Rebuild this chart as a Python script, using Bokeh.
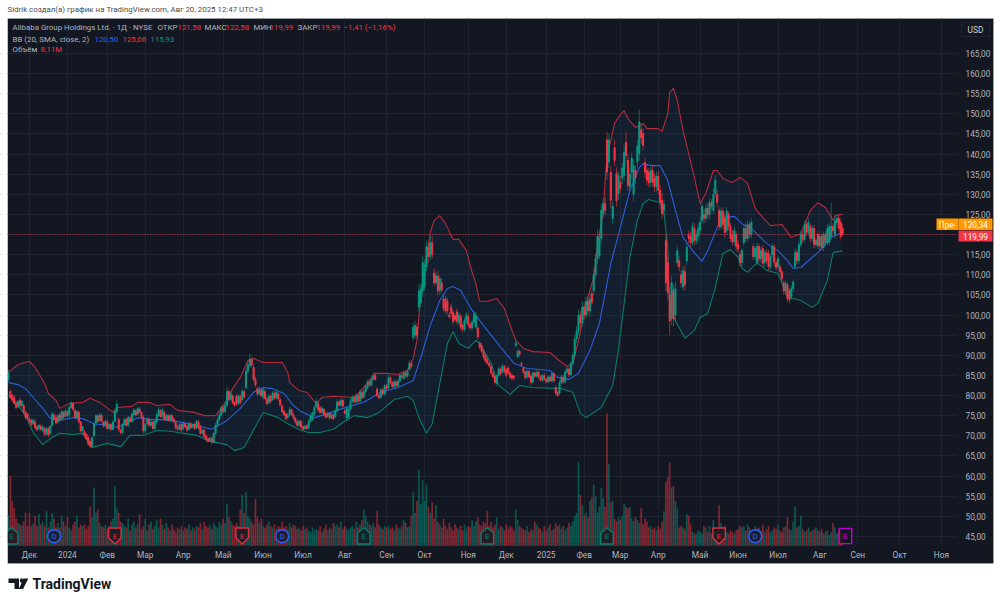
from bokeh.core.properties import value
from bokeh.embed import file_html
from bokeh.models import BoxAnnotation, FixedTicker, Label, PolyAnnotation, Range1d
from bokeh.plotting import figure
from bokeh.resources import INLINE

# daily candles, BABA NYSE
opens = [
    84,81,80,79.5,78,77.2,78.8,77.5,77.5,75.8,75.4,74.2,73.8,73,73.5,72.2,71.8,72.4,71.3,71.8,
    70.4,71.7,70.6,72.6,75.2,74.4,73.4,75.2,74.2,75.8,74.8,76,75.2,77,78,76.2,74.4,75.8,73.4,71.2,
    71,70.4,69.6,68.6,67.4,70,73.2,75,73.8,75,73.4,72.6,73.4,71.8,72.8,71.6,73.6,76,74,71.4,
    70.8,72.8,74,72.6,74.4,73.6,75.2,76.2,75.4,76.6,75.8,74.6,71.2,73,74,72.6,73.4,71.8,73.4,75,
    76.2,74.8,75.8,74,75,73.8,75,74.2,73.2,72.2,71.6,72.8,71.8,73,72.4,71.6,73,72.2,72.8,72,
    73.4,72.4,70.6,71.4,70,69.2,68.8,69.4,68.4,70.6,72.6,74,75.2,77,76,77.6,81,79,79.8,78.2,
    79.8,78,79.8,79,81,82,86,87.4,89,87,84,81.8,80.4,81.4,79.6,81,79.2,78.2,79.8,79,
    80.6,79.4,80.4,79,77.4,76,75.4,74.6,75.2,76.4,75.2,74.4,73.6,72.6,73.6,72.2,71.8,72.4,72,73.6,
    74,75.4,77.2,78,77,75.8,76.6,75.4,74.8,75.6,74.4,75.2,74.8,76.2,78.4,77.6,78.8,76.2,74.4,74.6,
    76.6,78.6,79.6,78.4,80,78.6,80.8,79.6,81,82,83.4,82.6,84,85,81.6,80,79.6,81.4,80.4,82.4,
    82,84.4,83.2,82.2,83.4,82.4,83.6,85,84.2,85.6,84.8,86.4,88,94.4,95,97,102,103,106,107,
    112,116.8,114.5,118,110.4,108,109.6,106,108,104,104,103.4,100,102,100.6,99.8,100.8,98.2,99.6,97.4,
    96.4,98.6,99.6,97.6,96.8,98.2,97,96.8,93,92.4,91,90,89,88,87.2,85.6,84.8,83,85,86.6,
    85.8,87.2,86.4,86.8,85.6,85,84.8,92.4,89.6,91,88,86.8,85.8,84.6,86,84.8,83.4,85.6,84.8,85.8,
    84.6,83.8,85,84,83.4,84.6,83.6,85.4,82,80.8,80.6,83.2,84.6,83.4,85.8,86.6,85.2,88,90,94,
    96,100,98,102,100,103.4,101,105.3,106,110,114,114.8,119,125.2,127.7,143.5,138,135.4,124,141.6,
    135.2,130.2,133,134,134.7,142.9,138.4,132,135.5,130,136,138,140.1,146,145.1,137.9,136,135.5,133,135.9,
    134,132,134.5,131,128.5,126,118.5,113,105,99,106,100,113,113.5,110,107,110.8,113.5,120,119.5,
    118,121.5,118.5,119.5,121,123.5,125,124,126.5,125,128,126,130.2,130,126,122,125.8,124,121,125,
    122,120,118.2,120,117.5,115,113,118,121.5,119,122.5,120,117,114.5,113,117,114,116.5,113,115.5,
    115.3,112,115,117,113,112,112,110.8,108,106,107.5,106,104.5,106.5,112,115.5,113.5,117.5,120,118.8,
    122.5,120.5,122,119,121.5,117.5,120,117.2,119.5,116.8,120,118,118,119.5,122,120,123,124,123,121.58,
]
closes = [
    85.5,79.5,78.8,78,77,78.5,77.5,78.6,75.8,74.6,74.3,73.5,72.8,73.9,72,71.5,72.6,71.6,72.2,70.4,
    71.8,70.2,72.4,75.4,74.2,73.2,75,74,76,74.6,76.2,75,77,78.2,76.5,74.6,76,73.5,71.2,72.2,
    70,69.2,68,67.4,69.5,73,75,73.6,75.2,73.6,72.4,73.6,71.8,72.8,71.6,73.4,76,77.8,71.6,70.8,
    72.8,74,72.6,74.6,73.6,75.4,76.4,75.2,76.8,75.8,74.6,71.2,72.8,74.2,72.6,73.4,71.8,73.6,75.2,76.4,
    74.8,76.4,74,75,73.8,75,74,73.4,72,71.6,72.8,71.4,73,72.2,71.4,73,72,72.8,71.8,73.6,
    72,70.6,71.4,69.8,69,68.6,69.4,68.4,70.6,72.6,74,75.2,77,76,77.6,81,79,80.4,78.2,77.6,
    78,79.8,78.2,81,79.6,86,87.6,89,87.6,84,82.6,80.4,81.6,80,81.4,79.2,78,79.8,78.6,80.6,
    79.4,80.8,79.2,77.6,76,75.2,74.2,75.2,76.6,75.2,74.4,73.4,72.6,73.6,72.2,71.6,72.4,71.8,73.6,75,
    75.6,77,78.6,76.4,75.8,76.8,75.2,74.6,75.6,74.4,75.2,74.2,76.2,78.4,77.6,78.8,77.4,75.6,76.8,76.6,
    78.6,79.6,78.4,80,78.6,80.8,79.4,81,82.2,83.4,82.6,84,85,84,80,79.4,81.4,80.4,82.4,81.6,
    84.4,83.2,82.2,83.4,82.4,83.6,85,84.6,85.6,84.8,86,88,87.2,97,97.4,95,106,106.4,113,112.4,
    117,114.5,118,115,108,109.8,106,109,106.2,101.6,101,101,99.6,100.4,98.4,98.8,98.4,100,97,96.4,
    98.6,100,97.6,96.8,98.2,100.2,99.8,94.6,92,91,89.6,88.6,88,87.4,85.6,84.6,83.2,85,86.6,85.4,
    87.4,86,85,85.6,84.6,84.2,84.4,93,91,90.2,87.6,85.8,84.4,86,84.6,83.2,85.6,84.8,85.8,84.6,
    83.8,85,84,83.4,84.6,83.6,85.4,83.6,80.6,80,83.2,84.6,83.4,85.8,86.6,85.2,88,90,94,96,
    100,98,102,100,103.4,101,104,103,110,114,119.5,119,126,127.7,126,135.5,143.5,128.5,127,138.4,
    128.4,134.7,131.5,136.5,140.4,139.6,132.2,135,139,137,134,142,148,144,142.1,135.5,133.5,132.8,135.9,133,
    131.8,134.5,131,128,125.2,127.5,108,105.5,98.5,108,99,106.5,116,112,108,111,107.5,116.8,119,118,
    122,118.5,120,121.5,123,127,124,126.5,125,128,127,130,133.5,128,122,125.8,122.5,120.5,125.8,122,
    119,118.2,121,117,116.4,113,116,121.5,119,122.5,120,123,114.5,116.5,117,114,116,112.8,115.5,113.5,
    112,114.5,117,113,111.8,114,110.8,109,106,107.8,104,103.8,106.5,108.2,115.5,113.5,117.5,120,118.8,122.5,
    120.5,123,119,121.5,117.5,118.5,117.2,119.5,116.8,120,118,121.5,122,122,121,123.5,124,121.5,119.5,119.99,
]
# wick lengths above and below the body, dollars
wick_up = [
    1,.5,.4,.6,.5,.4,.6,.3,.4,.5,.3,.4,.5,.3,.6,.4,.3,.5,.4,.3,
    .4,.6,.3,.5,.4,.6,.3,.5,.4,.3,.6,.4,.5,.3,.4,.6,.3,.5,.4,.3,
    .5,.3,.4,.6,.3,.5,.4,.3,.5,.4,.3,.4,.6,.3,.4,.5,.5,1,.6,.4,
    .3,.5,.4,.3,.6,.4,.5,.3,.4,.6,.3,.5,.4,.3,.5,.6,.3,.4,.5,.7,
    .4,.6,.3,.5,.4,.3,.6,.4,.3,.5,.4,.3,.6,.4,.3,.5,.4,.3,.5,.4,
    .6,.3,.4,.5,.3,.4,.3,.5,.4,.6,.5,.7,.6,.4,.8,1.2,.6,.8,.5,.4,
    .5,.6,.4,.7,.5,1,.9,1.4,.6,.8,.7,.5,.6,.4,.7,.5,.4,.6,.5,.6,
    .5,.7,.4,.5,.4,.6,.3,.5,.6,.4,.5,.3,.4,.5,.3,.4,.3,.5,.6,.7,
    .5,.6,.8,.5,.4,.6,.3,.5,.4,.3,.5,.4,.6,.7,.4,.6,.5,.4,.5,.6,
    .7,.5,.4,.6,.5,.7,.4,.6,.5,.6,.4,.7,.8,.6,.5,.4,.6,.5,.6,.4,
    .7,.5,.4,.6,.4,.5,.6,.4,.7,.5,.6,.8,.6,1,1.2,.9,1.6,1.4,1.8,1.2,
    1.5,1.2,1.8,1.5,1.2,1,1.4,.8,1.2,1,.8,1,.7,.9,.8,.6,.9,.8,.7,.6,
    .8,.7,.9,.6,.7,.8,.9,.6,.5,.7,.6,.5,.6,.4,.5,.6,.4,.5,.6,.5,
    .6,.4,.5,.6,.4,.5,.3,.8,.5,.4,.5,.4,.6,.5,.4,.6,.5,.4,.5,.4,
    .5,.4,.6,.3,.5,.4,.6,.5,.4,.5,.6,.5,.7,.6,.5,.4,.6,.8,1,1.2,
    1.4,1,1.5,.9,1.2,1,1.4,.8,1.5,1.2,1.6,1.2,1.5,1.2,1.5,2,1.5,1.6,1.2,2,
    1.5,1.2,1.6,1.4,1.8,2.5,1.5,1.8,1.4,1.6,1.2,1.5,3,1.5,1.2,1.2,1.5,1,1.2,1.4,
    1.2,1,1.4,1.2,1.8,1.2,1.4,1.6,2,1.8,1.5,1.8,1,1.2,1.2,1,1.5,1,1,1.2,
    1,1.4,1,1.2,1.5,1,1.2,1,1.4,1,.8,1.5,1,1.2,1,.8,1,1.2,1,.8,
    .8,1,1,.8,1.2,1,.8,1,1.2,1,.8,1,.8,.7,1,.8,1,.9,.7,.8,
    .8,.7,.9,.6,.8,.7,.6,.8,.7,.8,.6,.7,.8,.6,1,.7,.8,1,.8,1,
    .8,1,.7,.9,.8,.6,.8,.7,.9,.7,.8,1,.9,5.9,.8,1,1,.8,.9,1,
]
wick_dn = [
    .6,.4,.5,.3,.5,.4,.3,.5,.4,.6,.3,.4,.5,.3,.5,.4,.6,.3,.4,.5,
    .3,.5,.4,.3,.5,.4,.6,.3,.4,.5,.3,.4,.6,.3,.5,.4,.3,.5,.4,.6,
    .4,.3,.5,.6,.4,.3,.5,.4,.3,.5,.4,.6,.3,.4,.5,.3,.4,.5,.6,.5,
    .5,.4,.3,.5,.4,.3,.6,.4,.5,.3,.4,.6,.5,.3,.4,.5,.3,.4,.6,.3,
    .4,.3,.5,.4,.3,.5,.4,.3,.6,.4,.3,.5,.4,.3,.5,.4,.3,.5,.4,.3,
    .5,.4,.3,.5,.4,.3,.4,.5,.3,.4,.5,.6,.4,.5,.3,.5,.6,.4,.5,.4,
    .6,.4,.5,.6,.4,.5,.7,.5,.6,.4,.5,.6,.4,.5,.6,.4,.5,.3,.6,.4,
    .5,.4,.6,.3,.5,.4,.3,.5,.4,.3,.5,.4,.3,.4,.5,.3,.4,.3,.5,.4,
    .4,.5,.3,.6,.4,.3,.5,.4,.3,.5,.4,.3,.5,.4,.3,.5,.4,.3,.7,.5,
    .4,.5,.3,.6,.4,.5,.3,.4,.5,.4,.3,.5,.4,.3,.5,.3,.5,.4,.5,.3,
    .5,.4,.3,.5,.4,.3,.4,.5,.3,.4,.5,.3,.6,.8,1,.7,1,1.2,1.5,1,
    1.2,1.5,1,1,.8,.6,1.2,1,.8,1,.7,.9,.6,.8,.7,.6,.8,.7,.8,.7,
    .6,.8,.7,.6,.7,.8,.6,.9,.6,.5,.6,.5,.4,.5,.6,.4,.5,.6,.4,.5,
    .4,.6,.5,.4,.5,.4,.6,.4,.3,.5,.4,.5,.4,.5,.4,.6,.5,.4,.5,.4,
    .4,.5,.3,.5,.4,.3,.5,.4,.6,.5,.5,.4,.6,.5,.4,.6,.5,.6,.8,1,
    1,1.5,.9,1.2,.8,1,1.5,.8,1.2,1,1.4,1,1.2,1,1.2,2,1.5,2,1.5,1.4,
    1.5,1.8,1.2,1.5,1.2,1.6,1.4,1.2,1.5,1.8,1.4,1.6,1.8,1.5,1.2,1.4,1.2,1,1.2,1,
    1.2,1.5,1.2,1.8,1.5,1.2,2,1.6,3.5,1.5,1.8,1.6,1,1.2,1.2,1,1.4,1,1.2,1,
    .8,1.2,1,1.4,1,.8,1.2,1,1,1.2,.8,1,1,1.2,1,.8,1,1.2,.9,1,
    .8,1,.9,1.2,.8,1,1,.8,1,.9,1,.8,.9,1,.8,1,.9,.8,1,.7,
    .9,.8,.7,1,.8,.7,.9,.8,1,.9,.8,1,.7,.8,.7,.9,.8,.7,.9,.8,
    .8,.7,1,.8,.9,.7,.8,1,.8,.9,.7,.8,.7,.8,.7,.9,.8,.7,.6,0,
]
# volume, millions
volumes = [
    20,47,30,25,18,15,14,13,16,22,13,22,13,15,20,13,21,14,16,13,
    23,12,16,22,18,12,15,12,20,16,13,19,12,10,14,16,20,12,14,13,
    14,11,13,26,19,39,22,24,15,13,12,14,11,13,16,18,40,25,22,16,
    15,13,12,18,10,14,16,12,14,21,11,13,18,10,14,16,11,13,17,12,
    18,14,11,15,12,10,14,11,9,12,11,13,10,12,11,14,10,12,11,13,
    12,15,11,16,13,12,14,11,15,13,12,16,14,18,15,28,19,16,14,13,
    15,13,24,34,22,36,20,18,16,14,31,19,15,18,13,12,14,16,13,12,
    14,11,13,12,16,12,13,11,15,12,14,13,11,12,10,13,11,12,10,9,
    12,10,11,10,13,9,11,14,10,12,11,15,13,14,12,16,11,13,11,10,
    12,13,11,16,12,14,17,24,20,16,14,13,15,12,23,14,12,11,13,12,
    13,11,12,10,14,12,11,13,17,15,12,13,20,36,22,30,51,28,44,30,
    41,26,22,29,18,27,16,14,12,18,13,11,15,12,10,14,12,11,13,10,
    14,11,13,12,17,13,16,19,14,13,16,15,23,13,16,12,14,19,11,13,
    12,10,14,11,13,12,10,24,17,13,12,11,10,13,9,11,10,16,14,12,
    11,9,13,10,12,14,10,11,15,13,14,11,13,10,12,15,13,16,20,22,
    56,34,27,20,22,19,30,32,41,33,22,26,39,32,26,89,55,29,30,18,
    16,19,17,20,28,26,25,26,18,16,19,17,15,25,14,18,16,12,13,11,
    12,10,13,11,16,23,43,46,56,39,40,30,25,12,13,12,11,21,20,14,
    9,8,8,10,9,8,13,12,9,13,8,17,10,11,27,15,11,13,9,8,
    10,9,8,10,11,13,12,13,10,14,12,9,10,13,11,12,10,14,9,11,
    13,9,10,12,11,14,10,9,12,13,19,11,10,16,26,12,13,20,11,9,
    10,12,9,10,11,12,10,9,11,8,9,10,7,9,15,12,8,10,9,8,
]

# Bollinger bands, read at the bends of each line
upper_idx = [0,5,11,14,19,21,25,27,32,39,43,48,55,57,65,68,74,78,85,89,98,103,109,115,118,122,126,129,134,144,147,148,153,157,162,165,171,182,187,193,199,205,210,213,215,217,219,222,224,227,230,234,237,241,244,246,248,252,257,261,265,267,271,276,285,289,294,297,300,305,308,310,313,314,315,319,322,324,326,330,334,336,342,344,347,348,350,352,355,358,361,364,367,371,373,376,381,385,389,393,397,401,407,412,417,422,426,430,434,435,439]
upper_val = [85.7,87.7,88.5,87,83,80.5,78.8,76.8,78,78.3,79.3,78.3,75.8,77,77.3,78.3,78.3,77.5,77.8,76.3,75.8,75,75,78.8,81.7,84.5,88.7,89.2,88.2,88.2,85.7,83.2,81.2,80.8,78,79.5,79.8,79.5,82,85.5,85.5,85.2,86.2,89.2,93.7,105.3,111.8,120.5,123.5,124.7,122.7,118.8,118.8,116,110.6,107.8,103.4,103.4,104.1,101.6,96.2,93.7,91.7,90.9,90.7,89,87.2,88,93.7,104.6,109.3,117.8,125.2,133.4,139.1,147.6,149.8,150.8,148.8,146.6,147.6,146.3,146.3,145.6,150.1,155.3,156.3,153.3,145.8,140.1,134.2,127.7,130.2,135.9,135.9,133.9,132.9,134.2,132.7,126.5,124.2,122.2,122.5,119.3,120.2,126,127.9,126.7,123.5,124.7,125.06]
basis_idx = [0,5,9,13,18,22,27,34,39,45,52,57,63,68,75,82,89,99,107,115,122,129,134,139,145,150,154,161,168,176,187,196,205,213,217,222,227,231,234,238,243,248,257,266,273,285,289,295,300,306,311,317,322,327,332,334,339,343,347,351,355,360,365,368,373,376,382,386,392,399,405,410,413,417,427,433,439]
basis_val = [83.2,82.7,81.7,79.5,76.8,74.3,73.8,74.5,74.3,73,72.6,72.1,73.3,74.5,74,74,73.5,72.6,71.6,73.8,76.8,80.8,82,81.7,80.5,77.5,76,74.5,75.5,76.8,78.3,80.8,82,83.7,89.4,97.4,103.6,106.6,107.1,106.1,101.9,98.6,93.2,88,86.7,86.2,84.5,84,85.5,91.2,97.9,112.8,121.7,130.9,136.6,137.6,137.1,137.1,133.4,126,119.3,116,113.3,116,121.7,124.2,124.5,122.7,121,117.8,116,113.5,111.6,111.8,116,119.3,120.5]
lower_idx = [0,4,9,13,18,22,27,34,39,44,52,59,64,71,78,85,99,106,115,119,124,134,142,147,154,158,164,171,176,182,189,195,203,210,213,216,220,223,227,231,234,237,242,246,248,254,258,264,269,276,291,297,301,304,312,318,321,327,331,334,337,343,345,347,348,351,356,361,364,368,372,376,380,384,386,389,394,399,405,410,417,423,426,431,434,439]
lower_val = [80,78.3,75,70.8,67.8,69.3,70.6,70.3,70.6,67.1,68.1,67.3,70.1,70.1,71.3,71.1,70.1,68.6,67.8,66.3,67.1,75.8,74.5,73,71.3,70.8,70.8,71.6,73.3,75,74.5,75.8,79,79.8,78.8,74.5,70.6,73,83,92.9,95.9,92.9,91.7,93.7,92.9,88,82.5,80.3,82.5,82,81.7,80.8,75.5,74.5,77,82.5,91.2,114.3,123.5,127.7,128.7,127.9,125.2,116.8,101.9,98.6,94.2,96.2,99.4,100.4,106.8,115.3,116.3,114.3,111.6,110.6,113,111.1,110.3,104.4,103.6,101.9,102.9,108.6,115.5,115.93]

# axis ticks
price_ticks = [45,50,55,60,65,70,75,80,85,90,95,100,105,110,115,120,125,130,135,140,145,150,155,160,165]
price_labels = ["45,00","50,00","55,00","60,00","65,00","70,00","75,00","80,00","85,00","90,00","95,00","100,00","105,00","110,00","115,00","120,00","125,00","130,00","135,00","140,00","145,00","150,00","155,00","160,00","165,00"]
month_ticks = [11,31,52,72,92,113,134,155,177,199,219,242,262,283,303,322,342,364,384,405,427,447,469,491]
month_labels = ["Дек","2024","Фев","Мар","Апр","Май","Июн","Июл","Авг","Сен","Окт","Ноя","Дек","2025","Фев","Мар","Апр","Май","Июн","Июл","Авг","Сен","Окт","Ноя"]

# earnings and dividend badges on the time axis
earn_up_idx = [1.6,187,252,315]
earn_down_idx = [56,123,374]
earn_next_idx = [440.5]
div_idx = [24,144,393]

last_close = 119.99
premarket = "120,34"

BG = "#131722"
TXT = "#b2b5be"
UP = "#089981"
DOWN = "#f23645"
BLUE = "#2962ff"
FONT = "Roboto"

# the frame fills the whole page, so the white margins and the axes sit inside it
PX_PER_BAR = 1.9
PX_PER_DOLLAR = 4.025
PX_PER_MILLION = 1 / 0.676
W, H = 1000, 603
x_start = -8 / PX_PER_BAR
price_top = 120 + 234 / PX_PER_DOLLAR
vol_top = 545 / PX_PER_MILLION
panel_right = (957 - 8) / PX_PER_BAR
price_bottom = 120 - (545 - 234) / PX_PER_DOLLAR
price_ceiling = 120 + (234 - 18) / PX_PER_DOLLAR

p = figure(width=W, height=H,
           x_range=Range1d(x_start, x_start + W / PX_PER_BAR),
           y_range=Range1d(price_top - H / PX_PER_DOLLAR, price_top),
           y_axis_location="right", output_backend="svg", toolbar_location=None,
           min_border=0)
p.extra_y_ranges = {"vol": Range1d(vol_top - H / PX_PER_MILLION, vol_top)}
p.background_fill_color = "white"
p.border_fill_color = "white"
p.outline_line_color = None


def text(px, py, s, color=TXT, size="7.9px", align="left", style="normal"):
    p.add_layout(Label(x=px, y=H - py, x_units="screen", y_units="screen", text=s,
                       text_color=color, text_font=FONT, text_font_size=size, text_align=align,
                       text_baseline="middle", text_font_style=style))


def box(x0, x1, y0, y1, fill, line=None, level="annotation"):
    p.add_layout(BoxAnnotation(left=x0, right=x1, top=H - y0, bottom=H - y1,
                               left_units="screen", right_units="screen", top_units="screen",
                               bottom_units="screen", fill_color=fill, fill_alpha=1 if fill else 0,
                               line_color=line, line_width=1, level=level, editable=False))


# dark panel under everything
box(7, 993, 18, 563, BG, level="image")

p.xaxis.fixed_location = price_bottom
p.yaxis.fixed_location = panel_right
p.xaxis.ticker = FixedTicker(ticks=month_ticks)
p.xaxis.major_label_overrides = dict(zip(month_ticks, month_labels))
p.yaxis.ticker = FixedTicker(ticks=price_ticks)
p.yaxis.major_label_overrides = dict(zip(price_ticks, price_labels))
for ax in (p.xaxis, p.yaxis):
    ax.axis_line_color = None
    ax.major_tick_line_color = None
    ax.minor_tick_line_color = None
    ax.major_tick_in = 0
    ax.major_tick_out = 0
    ax.major_label_text_color = TXT
    ax.major_label_text_font = FONT
    ax.major_label_text_font_size = "8.3px"
p.xaxis.major_label_standoff = 4
p.yaxis.major_label_standoff = 8
p.xgrid.ticker = FixedTicker(ticks=month_ticks)
p.ygrid.ticker = FixedTicker(ticks=price_ticks)
p.xgrid.cross_bounds = (price_bottom, price_ceiling)
p.ygrid.cross_bounds = (x_start, panel_right)
p.grid.grid_line_color = "#1f2330"
p.grid.grid_line_width = 1

# band fill, then volume, then the lines and the candles
p.patch(upper_idx + lower_idx[::-1], upper_val + lower_val[::-1], fill_color="#2196f3", fill_alpha=0.06, line_color=None)

idx = list(range(len(closes)))
colors = [UP if c >= o else DOWN for o, c in zip(opens, closes)]
highs = [max(o, c) + w for o, c, w in zip(opens, closes, wick_up)]
lows = [min(o, c) - w for o, c, w in zip(opens, closes, wick_dn)]

p.vbar(idx, width=0.5, top=volumes, bottom=0, color=colors, alpha=0.33, y_range_name="vol")

p.line(upper_idx, upper_val, line_color="#b52b3b", line_width=1.1)
p.line(basis_idx, basis_val, line_color="#2d5fdc", line_width=1.1)
p.line(lower_idx, lower_val, line_color="#0a7c69", line_width=1.1)

p.segment(idx, lows, idx, highs, line_color=colors, line_width=0.6)
p.vbar(idx, width=0.55, top=[max(a, b) for a, b in zip(opens, closes)],
       bottom=[min(a, b) for a, b in zip(opens, closes)], color=colors)

p.line([x_start, panel_right], [last_close, last_close], line_color=DOWN, line_alpha=0.85, line_dash=[1, 2], line_width=1)


# earnings badges: small house shapes drawn around the event's bar
def badge(xs, color, shape):
    w, h = 3.3, 10
    px, py = [], []
    for x in xs:
        if shape == "up":
            px.append([x - w, x, x + w, x + w, x - w])
            py.append([2 + h * .65, 2 + h, 2 + h * .65, 1, 1])
        elif shape == "down":
            px.append([x - w, x + w, x + w, x, x - w])
            py.append([1.8 + h, 1.8 + h, 1.8 + h * .35, 1, 1.8 + h * .35])
        else:
            px.append([x - w, x + w, x + w, x - w])
            py.append([1.6 + h, 1.6 + h, 1.3, 1.3])
    p.patches(px, py, fill_color=BG, fill_alpha=0.75, line_color=color, line_width=1.4, y_range_name="vol")
    p.text(xs, [6.3] * len(xs), ["E"] * len(xs), text_color=color, text_font=value(FONT), text_font_size="8px",
           text_align="center", text_baseline="middle", y_range_name="vol")


badge(earn_up_idx, "#0b7d6b", "up")
badge(earn_down_idx, "#d9313f", "down")
badge(earn_next_idx, "#c000d8", "box")
p.text([x - 4.2 for x in earn_next_idx], [6.3], ["="], text_color="#c000d8", text_font=value(FONT), text_font_size="8px",
       text_align="center", text_baseline="middle", y_range_name="vol")
p.scatter(div_idx, [6.3] * len(div_idx), marker="circle", size=13, fill_color=BG, fill_alpha=0.75,
          line_color=BLUE, line_width=1.4, y_range_name="vol")
p.text(div_idx, [6.3] * len(div_idx), ["D"] * len(div_idx), text_color=BLUE, text_font=value(FONT), text_font_size="8px",
       text_align="center", text_baseline="middle", y_range_name="vol")

# page margin left of the panel and its thin border
box(0, 7, 18, 563, "white")
box(7, 993, 18, 563, None, "#c4c6cc")

# tags on the price axis
box(936, 958, 218, 229.5, "#ff9800")
box(958, 992, 218, 229.5, "#ff9800")
box(958, 992, 230, 241, DOWN)
text(947, 224, "Пре-", "white", align="center", size="8.3px")
text(975, 224, premarket, "white", align="center", size="8.3px")
text(975, 235.5, "119,99", "white", align="center", size="8.3px")
box(961, 989, 22, 36, BG, "#434651")
text(975, 29, "USD", "#d1d4dc", align="center", size="8.3px")

# header lines
text(7, 9, "Sidrik создал(а) график на TradingView.com, Авг 20, 2025 12:47 UTC+3", "#4a4a4a")
text(12, 27, "Alibaba Group Holdings Ltd. · 1Д · NYSE")
text(157, 27, "ОТКР")
text(177, 27, "121,58", DOWN)
text(204, 27, "МАКС")
text(225, 27, "122,58", DOWN)
text(253, 27, "МИН")
text(269, 27, "119,99", DOWN)
text(297, 27, "ЗАКР")
text(316, 27, "119,99", DOWN)
text(343, 27, "−1,41 (−1,16%)", DOWN)
text(12, 38.5, "BB (20, SMA, close, 2)")
text(94, 38.5, "120,50", BLUE)
text(122, 38.5, "125,06", DOWN)
text(150, 38.5, "115,93", UP)
text(12, 49, "Объём")
text(40, 49, "8,11M", DOWN)

# logo at the foot of the page
LOGO = "#131722"
for xs, ys in (([8, 18.5, 18.5, 14, 14, 8], [578, 578, 588.5, 588.5, 582.5, 582.5]),
               ([23, 27.8, 22.6, 18.4], [578, 578, 588.5, 588.5]),
               ([19.8, 21, 22.2, 22.6, 22.2, 21, 19.8, 19.4], [578.2, 577.8, 578.2, 580, 581.8, 582.2, 581.8, 580])):
    p.add_layout(PolyAnnotation(xs=xs, ys=[H - v for v in ys],
                                xs_units="screen", ys_units="screen",
                                fill_color=LOGO, fill_alpha=1, line_color=None))
text(32, 583.5, "TradingView", LOGO, size="14px", style="bold")

open("out.html", "w").write(file_html(p, INLINE))
